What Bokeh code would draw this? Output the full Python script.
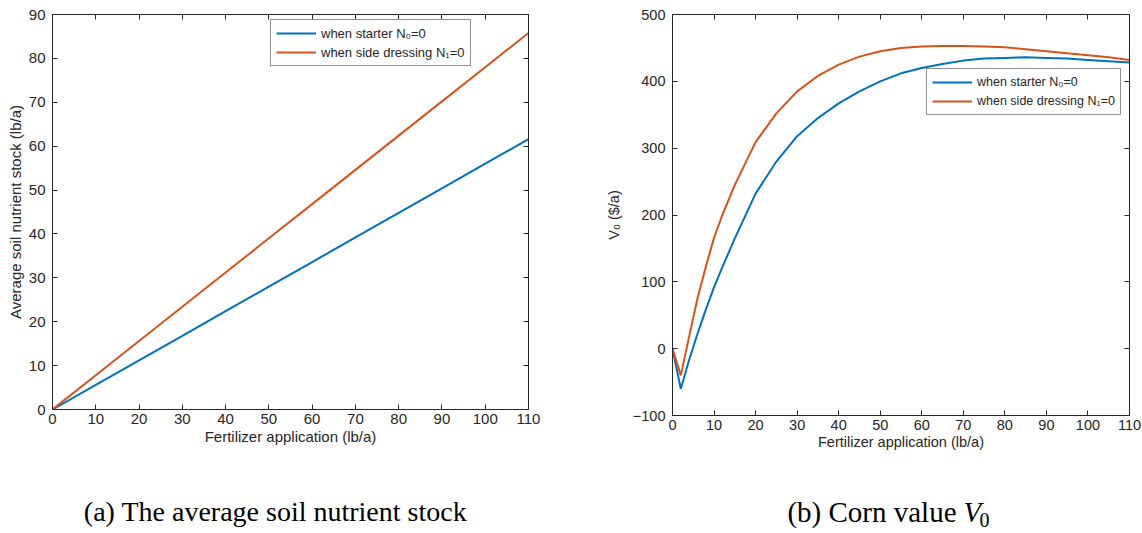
from bokeh.plotting import figure
from bokeh.layouts import row, column
from bokeh.models import (Range1d, LinearAxis, FixedTicker, Legend, LegendItem,
                          Label)
from bokeh.embed import file_html
from bokeh.resources import INLINE

# ---- data -------------------------------------------------------------
fert_a = [0, 10, 20, 30, 40, 50, 60, 70, 80, 90, 100, 110]
stock_starter0 = [0, 5.6, 11.2, 16.8, 22.4, 28.0, 33.6, 39.2, 44.8, 50.4, 56.0, 61.6]
stock_side0 = [0, 7.8, 15.6, 23.4, 31.2, 39.0, 46.8, 54.6, 62.4, 70.2, 78.0, 85.8]

fert_b = [0, 2, 4, 6, 8, 10, 12, 15, 20, 25, 30, 35, 40, 45, 50, 55, 60, 65,
          70, 75, 80, 85, 90, 95, 100, 105, 110]
value_starter0 = [0, -60, -17, 22, 58, 92, 122, 165, 232, 280, 318, 345, 367,
                  385, 400, 412, 420, 426, 431, 434, 435, 436, 435, 434, 432,
                  430, 428]
value_side0 = [0, -40, 18, 75, 122, 166, 200, 245, 309, 352, 385, 408, 425,
               437, 445, 450, 452, 453, 453, 452, 451, 448, 445, 442, 439,
               436, 432]

x_ticks = [0, 10, 20, 30, 40, 50, 60, 70, 80, 90, 100, 110]
y_ticks_a = [0, 10, 20, 30, 40, 50, 60, 70, 80, 90]
y_ticks_b = [-100, 0, 100, 200, 300, 400, 500]

legend_labels = ["when starter N\u2080=0", "when side dressing N\u2081=0"]
xlabel = "Fertilizer application (lb/a)"
ylabel_a = "Average soil nutrient stock (lb/a)"
ylabel_b = "V\u2080 ($/a)"
caption_a = "(a) The average soil nutrient stock"
caption_b = "(b) Corn value"

BLUE = "#0072BD"
ORANGE = "#D95319"
INK = "#262626"
SANS = "Liberation Sans"
SERIF = "Liberation Serif"


def mirror_axis(ticks):
    # tick marks only, for the top and right edges of the box
    return LinearAxis(ticker=FixedTicker(ticks=ticks),
                      major_label_overrides={t: "" for t in ticks},
                      major_tick_in=5, major_tick_out=0,
                      minor_tick_line_color=None, axis_line_color=INK,
                      major_tick_line_color=INK, major_label_standoff=0)


def style_axes(p, xt, yt, tick_font, label_font, ylab_standoff):
    for ax in p.xaxis + p.yaxis:
        ax.major_tick_in = 5
        ax.major_tick_out = 0
        ax.minor_tick_line_color = None
        ax.axis_line_color = INK
        ax.major_tick_line_color = INK
        ax.major_label_text_color = INK
        ax.major_label_text_font = SANS
        ax.major_label_text_font_size = tick_font
        ax.axis_label_text_font = SANS
        ax.axis_label_text_font_size = label_font
        ax.axis_label_text_font_style = "normal"
        ax.axis_label_text_color = INK
    p.xaxis.ticker = FixedTicker(ticks=xt)
    p.yaxis.ticker = FixedTicker(ticks=yt)
    p.xaxis.major_label_standoff = 4
    p.xaxis.axis_label_standoff = 1
    p.yaxis.major_label_standoff = 7
    p.yaxis.axis_label_standoff = ylab_standoff
    p.add_layout(mirror_axis(xt), "above")
    p.add_layout(mirror_axis(yt), "right")
    p.xgrid.grid_line_color = None
    p.ygrid.grid_line_color = None
    p.outline_line_color = INK
    p.outline_line_width = 1


def make_legend(p, r1, r2, loc, font):
    lg = Legend(items=[LegendItem(label=legend_labels[0], renderers=[r1]),
                       LegendItem(label=legend_labels[1], renderers=[r2])],
                location=loc)
    lg.label_text_font = SANS
    lg.label_text_font_size = font
    lg.label_text_color = INK
    lg.border_line_color = INK
    lg.border_line_width = 1
    lg.background_fill_color = "white"
    lg.glyph_width = 40
    lg.glyph_height = 16
    lg.label_height = 16
    lg.label_standoff = 5
    lg.padding = 5
    lg.spacing = 3
    lg.margin = 0
    p.add_layout(lg, "center")


def caption_figure(width):
    c = figure(width=width, height=73, x_range=Range1d(0, width),
               y_range=Range1d(0, 73), min_border=0,
               output_backend="svg", toolbar_location=None)
    c.axis.visible = False
    c.grid.grid_line_color = None
    c.outline_line_color = None
    return c


# ---- (a) average soil nutrient stock ------------------------------------
p1 = figure(frame_width=476, frame_height=395, min_border_left=52,
            min_border_right=32, min_border_top=14, min_border_bottom=51,
            x_range=Range1d(0, 110), y_range=Range1d(0, 90),
            x_axis_label=xlabel, y_axis_label=ylabel_a,
            output_backend="svg", toolbar_location=None)
a1 = p1.line(fert_a, stock_starter0, line_color=BLUE, line_width=2)
a2 = p1.line(fert_a, stock_side0, line_color=ORANGE, line_width=2)
style_axes(p1, x_ticks, y_ticks_a, "15px", "15px", 2)
make_legend(p1, a1, a2, (218, 343), "13px")

# ---- (b) corn value V0 --------------------------------------------------
p2 = figure(frame_width=457, frame_height=401, min_border_left=112,
            min_border_right=13, min_border_top=7, min_border_bottom=52,
            x_range=Range1d(0, 110), y_range=Range1d(-100, 500),
            x_axis_label=xlabel, y_axis_label=ylabel_b,
            output_backend="svg", toolbar_location=None)
b1 = p2.line(fert_b, value_starter0, line_color=BLUE, line_width=2)
b2 = p2.line(fert_b, value_side0, line_color=ORANGE, line_width=2)
style_axes(p2, x_ticks, y_ticks_b, "14.5px", "14.5px", 8)
make_legend(p2, b1, b2, (254, 300), "12.5px")

# ---- sub-figure captions ----------------------------------------------------
c1 = caption_figure(560)
c1.add_layout(Label(x=275, y=22, text=caption_a, text_font=SERIF,
                    text_font_size="28px", text_color="black",
                    text_align="center", text_baseline="middle"))
c2 = caption_figure(582)
c2.add_layout(Label(x=396, y=22, text=caption_b, text_font=SERIF,
                    text_font_size="29px", text_color="black",
                    text_align="right", text_baseline="middle"))
c2.add_layout(Label(x=403, y=22, text="V", text_font=SERIF,
                    text_font_size="29px", text_color="black",
                    text_font_style="italic",
                    text_align="left", text_baseline="middle"))
c2.add_layout(Label(x=419, y=14, text="0", text_font=SERIF,
                    text_font_size="20px", text_color="black",
                    text_align="left", text_baseline="middle"))

layout = column(row(p1, p2), row(c1, c2), spacing=0)
open("out.html", "w").write(file_html(layout, INLINE))
